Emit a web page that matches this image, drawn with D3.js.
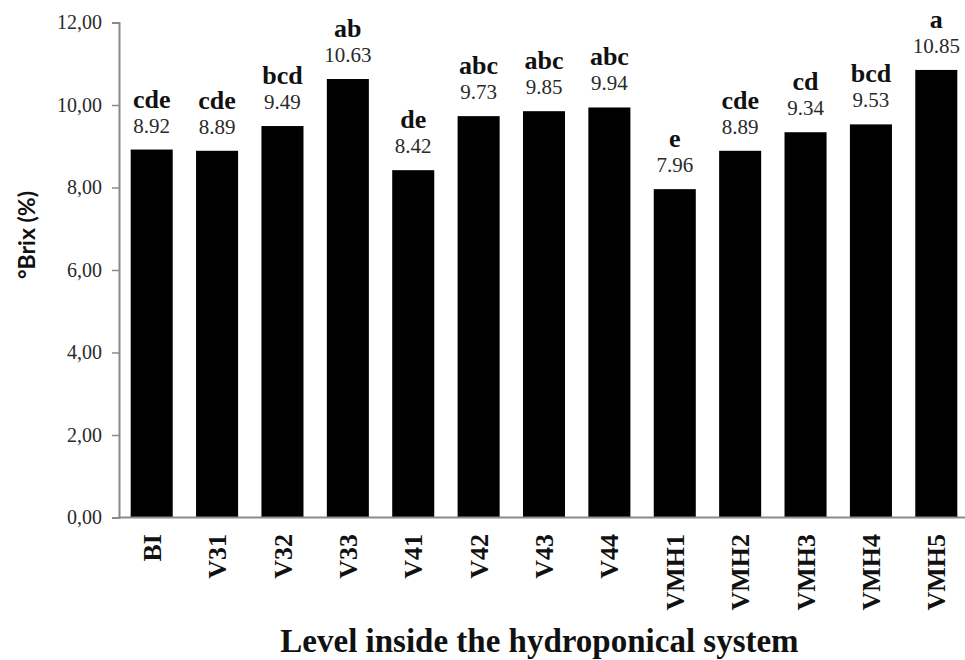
<!DOCTYPE html>
<html>
<head>
<meta charset="utf-8">
<script src="https://cdn.jsdelivr.net/npm/d3@7"></script>
<style>
  body { margin: 0; background: #fff; }
</style>
</head>
<body>
<div id="chart"></div>
<script>
// data
var levels = ["BI", "V31", "V32", "V33", "V41", "V42", "V43", "V44", "VMH1", "VMH2", "VMH3", "VMH4", "VMH5"];
var brix = [8.92, 8.89, 9.49, 10.63, 8.42, 9.73, 9.85, 9.94, 7.96, 8.89, 9.34, 9.53, 10.85];
var groups = ["cde", "cde", "bcd", "ab", "de", "abc", "abc", "abc", "e", "cde", "cd", "bcd", "a"];
var yTicks = [0, 2, 4, 6, 8, 10, 12];

var width = 965, height = 660;
var serif = "'Liberation Serif', 'Times New Roman', serif";

var svg = d3.select("#chart")
  .append("svg")
    .attr("width", width)
    .attr("height", height);

var x = d3.scaleBand()
  .domain(levels)
  .range([119, 969])
  .paddingInner(0.357)
  .paddingOuter(0.1785);

var y = d3.scaleLinear()
  .domain([0, 12])
  .range([517.5, 22.5]);

// y axis
var yax = d3.axisLeft(y)
  .tickValues(yTicks)
  .tickSize(7)
  .tickPadding(10)
  .tickFormat(function(d) { return d3.format(".2f")(d).replace(".", ","); });

var gy = svg.append("g")
  .attr("transform", "translate(119,0)")
  .call(yax);
gy.select(".domain").attr("stroke", "#8a8a8a").attr("stroke-width", 2);
gy.selectAll(".tick line").attr("stroke", "#8a8a8a").attr("stroke-width", 1.5);
gy.selectAll(".tick text")
  .style("font-family", serif)
  .style("font-size", "20px")
  .attr("fill", "#2a2a2a");

// bars
svg.append("g")
  .selectAll("rect")
  .data(levels)
  .enter()
  .append("rect")
    .attr("x", function(d) { return x(d); })
    .attr("y", function(d, i) { return y(brix[i]); })
    .attr("width", x.bandwidth())
    .attr("height", function(d, i) { return y(0) - y(brix[i]); })
    .style("fill", "#000");

// x axis line (drawn over bar bottoms)
svg.append("line")
  .attr("x1", 118)
  .attr("x2", width)
  .attr("y1", y(0))
  .attr("y2", y(0))
  .style("stroke", "#8a8a8a")
  .style("stroke-width", 2);

// value labels
svg.append("g")
  .selectAll("text")
  .data(levels)
  .enter()
  .append("text")
    .attr("x", function(d) { return x(d) + x.bandwidth() / 2; })
    .attr("y", function(d, i) { return y(brix[i]) - 17; })
    .attr("text-anchor", "middle")
    .style("font-family", serif)
    .style("font-size", "21px")
    .attr("fill", "#2a2a2a")
    .text(function(d, i) { return brix[i].toFixed(2); });

// letters from the mean comparison
svg.append("g")
  .selectAll("text")
  .data(levels)
  .enter()
  .append("text")
    .attr("x", function(d) { return x(d) + x.bandwidth() / 2; })
    .attr("y", function(d, i) { return y(brix[i]) - 42; })
    .attr("text-anchor", "middle")
    .style("font-family", serif)
    .style("font-size", "26px")
    .style("font-weight", "bold")
    .attr("fill", "#111")
    .text(function(d, i) { return groups[i]; });

// category labels, rotated
svg.append("g")
  .selectAll("text")
  .data(levels)
  .enter()
  .append("text")
    .attr("transform", function(d) {
      return "translate(" + (x(d) + x.bandwidth() / 2) + ",534) rotate(-90)";
    })
    .attr("dy", "0.35em")
    .attr("text-anchor", "end")
    .style("font-family", serif)
    .style("font-size", "26px")
    .style("font-weight", "bold")
    .attr("fill", "#111")
    .text(function(d) { return d; });

// axis titles
svg.append("text")
  .attr("x", 539.5)
  .attr("y", 652)
  .attr("text-anchor", "middle")
  .style("font-family", serif)
  .style("font-size", "33px")
  .style("font-weight", "bold")
  .attr("fill", "#111")
  .text("Level inside the hydroponical system");

svg.append("text")
  .attr("transform", "translate(27,235) rotate(-90)")
  .attr("dy", "0.35em")
  .attr("text-anchor", "middle")
  .style("font-family", "Lato, 'Open Sans', sans-serif")
  .style("font-size", "23px")
  .style("font-weight", "bold")
  .attr("fill", "#111")
  .text("°Brix (%)");
</script>
</body>
</html>
